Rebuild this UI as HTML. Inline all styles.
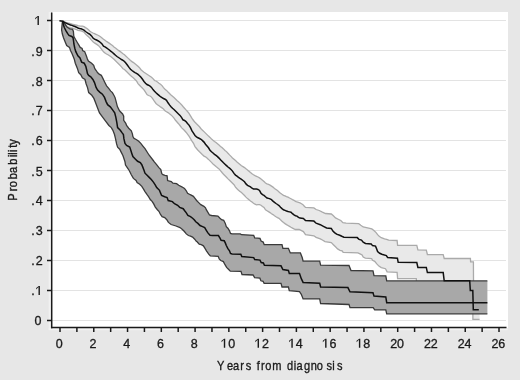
<!DOCTYPE html>
<html><head><meta charset="utf-8"><style>
html,body{margin:0;padding:0;background:#e7e7e7;}
svg{display:block;font-family:"Liberation Sans", sans-serif;will-change:transform;}
</style></head><body>
<svg width="520" height="380" viewBox="0 0 520 380">
<rect x="0" y="0" width="520" height="380" fill="#e7e7e7"/>
<rect x="52" y="12" width="456" height="316" fill="#ffffff"/>
<line x1="52" x2="506" y1="320.5" y2="320.5" stroke="#e3e3e3" stroke-width="1"/>
<line x1="52" x2="506" y1="290.5" y2="290.5" stroke="#e3e3e3" stroke-width="1"/>
<line x1="52" x2="506" y1="260.5" y2="260.5" stroke="#e3e3e3" stroke-width="1"/>
<line x1="52" x2="506" y1="230.5" y2="230.5" stroke="#e3e3e3" stroke-width="1"/>
<line x1="52" x2="506" y1="200.5" y2="200.5" stroke="#e3e3e3" stroke-width="1"/>
<line x1="52" x2="506" y1="170.5" y2="170.5" stroke="#e3e3e3" stroke-width="1"/>
<line x1="52" x2="506" y1="140.5" y2="140.5" stroke="#e3e3e3" stroke-width="1"/>
<line x1="52" x2="506" y1="110.5" y2="110.5" stroke="#e3e3e3" stroke-width="1"/>
<line x1="52" x2="506" y1="80.5" y2="80.5" stroke="#e3e3e3" stroke-width="1"/>
<line x1="52" x2="506" y1="50.5" y2="50.5" stroke="#e3e3e3" stroke-width="1"/>
<line x1="52" x2="506" y1="20.5" y2="20.5" stroke="#e3e3e3" stroke-width="1"/>
<polygon points="62.7,21.0 66.0,22.3 67.5,22.8 69.0,23.2 70.5,23.6 72.0,24.0 73.5,24.5 75.0,24.8 76.5,25.2 78.0,25.6 79.5,25.9 81.0,26.1 82.5,26.2 84.0,26.6 85.5,27.6 87.0,28.5 88.5,29.8 90.0,31.2 91.5,32.2 93.0,33.0 94.5,33.6 96.0,34.3 97.5,35.0 99.0,35.8 100.5,36.8 102.0,37.9 103.5,39.2 105.0,40.3 106.5,41.4 108.0,42.4 109.5,43.4 111.0,44.5 112.5,45.6 114.0,46.9 115.5,48.1 117.0,49.2 118.5,50.4 120.0,51.4 121.5,52.5 123.0,53.7 124.5,54.8 126.0,56.2 127.5,57.6 129.0,59.1 130.5,60.4 132.0,61.6 133.5,62.6 135.0,63.8 136.5,65.0 138.0,66.3 139.5,67.7 141.0,69.7 142.5,71.1 144.0,72.2 145.5,73.2 147.0,74.2 148.5,75.2 150.0,76.2 151.5,77.2 153.0,78.6 154.5,80.5 156.0,81.0 157.5,82.1 159.0,83.2 160.5,84.2 162.0,85.6 163.5,87.6 165.0,89.3 166.5,90.4 168.0,92.0 169.5,93.5 171.0,94.9 172.5,96.2 174.0,97.5 175.5,99.0 177.0,100.5 178.5,101.8 180.0,103.1 181.5,104.7 183.0,106.5 184.5,108.2 186.0,109.9 187.5,111.5 189.0,113.3 190.5,115.8 192.0,118.4 193.5,120.5 195.0,122.2 196.5,123.8 198.0,125.3 199.5,126.8 201.0,128.7 202.5,130.2 204.0,131.6 205.5,133.1 207.0,134.6 208.5,136.1 210.0,137.4 211.5,138.9 213.0,140.2 214.5,141.4 216.0,142.5 217.5,143.8 219.0,145.1 220.5,146.4 222.0,147.6 223.5,148.9 225.0,150.4 226.5,151.6 228.0,153.3 229.5,154.9 231.0,156.4 232.5,157.9 234.0,159.2 235.5,160.6 237.0,162.0 238.5,163.2 240.0,164.4 241.5,165.7 243.0,166.6 244.5,167.6 246.0,168.8 247.5,169.9 249.0,171.2 250.5,172.6 252.0,173.8 253.5,174.8 255.0,175.6 256.5,176.3 258.0,177.0 259.5,177.9 261.0,178.9 262.5,180.2 264.0,181.6 265.5,183.0 267.0,183.9 268.5,184.4 270.0,185.1 271.5,186.1 273.0,187.1 274.5,188.4 276.0,189.5 277.5,190.6 279.0,191.9 280.5,193.2 282.0,194.3 283.5,195.3 285.0,195.9 286.5,196.6 288.0,197.2 289.5,198.0 291.0,198.8 292.5,199.6 294.0,200.3 295.5,201.4 297.0,202.0 298.5,202.4 300.0,202.9 301.5,203.7 303.0,204.7 303.9,205.8 305.5,207.4 313.9,207.9 316.1,209.5 319.2,210.5 322.4,212.1 325.5,213.5 331.3,214.0 333.4,215.8 335.5,217.9 338.7,219.5 340.8,220.5 342.9,222.6 346.1,223.2 358.7,223.7 360.8,225.3 363.2,227.0 367.6,227.9 371.8,228.9 373.9,230.5 376.1,232.6 377.6,234.7 379.2,236.3 381.3,237.7 384.5,238.9 386.6,239.4 388.7,240.2 397.1,240.5 397.6,245.4 416.8,245.4 417.9,249.8 426.3,250.1 427.4,254.5 443.2,254.7 444.2,258.5 470.4,258.5 470.6,261.8 473.4,261.8 473.6,295.0 479.6,295.0 479.6,319.4 472.9,319.4 472.8,300.0 417.0,290.0 416.3,278.7 397.6,278.5 397.1,272.4 387.1,271.8 385.5,268.7 381.3,267.6 378.9,266.1 376.8,263.9 374.7,261.3 372.6,260.3 371.6,258.7 365.3,258.2 363.2,257.1 362.1,255.0 360.0,253.9 357.9,252.9 343.2,252.4 342.1,250.8 340.0,250.3 337.6,248.9 335.5,246.8 333.4,244.7 331.3,242.6 325.0,241.6 322.4,240.0 320.3,238.9 316.1,237.4 313.9,235.8 305.5,234.7 303.4,231.6 299.2,229.5 295.5,229.5 294.0,228.9 292.5,228.1 291.0,227.3 289.5,226.4 288.0,225.5 286.5,224.6 285.0,223.6 283.5,222.5 282.0,221.2 280.5,219.8 279.0,218.3 277.5,217.6 276.0,216.7 274.5,215.7 273.0,214.6 271.5,213.7 270.0,212.6 268.5,211.6 267.0,210.7 265.5,209.8 264.0,207.5 262.5,206.4 261.0,205.2 259.5,204.6 258.0,204.7 256.5,204.8 255.0,204.2 253.5,203.2 252.0,202.1 250.5,201.0 249.0,199.8 247.5,198.6 246.0,197.1 244.5,195.5 243.0,194.1 241.5,192.6 240.0,191.4 238.5,190.2 237.0,188.8 235.5,187.1 234.0,184.7 232.5,183.2 231.0,181.7 229.5,180.2 228.0,178.9 226.5,177.2 225.0,175.7 223.5,174.2 222.0,172.5 220.5,170.6 219.0,168.9 217.5,167.7 216.0,166.6 214.5,165.2 213.0,163.9 211.5,162.4 210.0,160.9 208.5,159.4 207.0,158.0 205.5,156.8 204.0,156.1 202.5,154.7 201.0,153.2 199.5,151.8 198.0,150.2 196.5,148.5 195.0,146.6 193.5,143.3 192.0,141.2 190.5,138.6 189.0,136.2 187.5,134.1 186.0,132.2 184.5,130.5 183.0,129.1 181.5,127.6 180.0,125.5 178.5,123.7 177.0,122.0 175.5,120.3 174.0,118.1 172.5,116.4 171.0,114.9 169.5,113.8 168.0,112.6 166.5,111.8 165.0,110.8 163.5,109.0 162.0,107.9 160.5,106.9 159.0,105.8 157.5,104.7 156.0,103.5 154.5,101.5 153.0,99.1 151.5,97.1 150.0,96.0 148.5,95.5 147.0,94.5 145.5,92.2 144.0,89.8 142.5,88.3 141.0,86.8 139.5,85.2 138.0,83.6 136.5,81.0 135.0,79.5 133.5,78.0 132.0,76.8 130.5,75.5 129.0,74.0 127.5,72.5 126.0,71.0 124.5,69.5 123.0,68.7 121.5,66.8 120.0,65.2 118.5,63.7 117.0,62.3 115.5,60.8 114.0,59.2 112.5,58.0 111.0,56.8 109.5,55.8 108.0,54.8 106.5,54.0 105.0,53.0 103.5,51.7 102.0,49.9 100.5,47.8 99.0,46.1 97.5,44.9 96.0,43.9 94.5,42.9 93.0,41.7 91.5,40.1 90.0,38.3 88.5,36.8 87.0,35.4 85.5,34.1 84.0,32.2 82.5,31.4 81.0,30.9 79.5,30.6 78.0,30.3 76.5,29.7 75.0,29.1 73.5,28.5 72.0,28.1 70.5,27.8 69.0,27.5 67.5,26.8 66.0,26.0 62.7,21.0" fill="#e9e9e9" stroke="none"/>
<polyline points="62.7,21.0 66.0,22.3 67.5,22.8 69.0,23.2 70.5,23.6 72.0,24.0 73.5,24.5 75.0,24.8 76.5,25.2 78.0,25.6 79.5,25.9 81.0,26.1 82.5,26.2 84.0,26.6 85.5,27.6 87.0,28.5 88.5,29.8 90.0,31.2 91.5,32.2 93.0,33.0 94.5,33.6 96.0,34.3 97.5,35.0 99.0,35.8 100.5,36.8 102.0,37.9 103.5,39.2 105.0,40.3 106.5,41.4 108.0,42.4 109.5,43.4 111.0,44.5 112.5,45.6 114.0,46.9 115.5,48.1 117.0,49.2 118.5,50.4 120.0,51.4 121.5,52.5 123.0,53.7 124.5,54.8 126.0,56.2 127.5,57.6 129.0,59.1 130.5,60.4 132.0,61.6 133.5,62.6 135.0,63.8 136.5,65.0 138.0,66.3 139.5,67.7 141.0,69.7 142.5,71.1 144.0,72.2 145.5,73.2 147.0,74.2 148.5,75.2 150.0,76.2 151.5,77.2 153.0,78.6 154.5,80.5 156.0,81.0 157.5,82.1 159.0,83.2 160.5,84.2 162.0,85.6 163.5,87.6 165.0,89.3 166.5,90.4 168.0,92.0 169.5,93.5 171.0,94.9 172.5,96.2 174.0,97.5 175.5,99.0 177.0,100.5 178.5,101.8 180.0,103.1 181.5,104.7 183.0,106.5 184.5,108.2 186.0,109.9 187.5,111.5 189.0,113.3 190.5,115.8 192.0,118.4 193.5,120.5 195.0,122.2 196.5,123.8 198.0,125.3 199.5,126.8 201.0,128.7 202.5,130.2 204.0,131.6 205.5,133.1 207.0,134.6 208.5,136.1 210.0,137.4 211.5,138.9 213.0,140.2 214.5,141.4 216.0,142.5 217.5,143.8 219.0,145.1 220.5,146.4 222.0,147.6 223.5,148.9 225.0,150.4 226.5,151.6 228.0,153.3 229.5,154.9 231.0,156.4 232.5,157.9 234.0,159.2 235.5,160.6 237.0,162.0 238.5,163.2 240.0,164.4 241.5,165.7 243.0,166.6 244.5,167.6 246.0,168.8 247.5,169.9 249.0,171.2 250.5,172.6 252.0,173.8 253.5,174.8 255.0,175.6 256.5,176.3 258.0,177.0 259.5,177.9 261.0,178.9 262.5,180.2 264.0,181.6 265.5,183.0 267.0,183.9 268.5,184.4 270.0,185.1 271.5,186.1 273.0,187.1 274.5,188.4 276.0,189.5 277.5,190.6 279.0,191.9 280.5,193.2 282.0,194.3 283.5,195.3 285.0,195.9 286.5,196.6 288.0,197.2 289.5,198.0 291.0,198.8 292.5,199.6 294.0,200.3 295.5,201.4 297.0,202.0 298.5,202.4 300.0,202.9 301.5,203.7 303.0,204.7 303.9,205.8 305.5,207.4 313.9,207.9 316.1,209.5 319.2,210.5 322.4,212.1 325.5,213.5 331.3,214.0 333.4,215.8 335.5,217.9 338.7,219.5 340.8,220.5 342.9,222.6 346.1,223.2 358.7,223.7 360.8,225.3 363.2,227.0 367.6,227.9 371.8,228.9 373.9,230.5 376.1,232.6 377.6,234.7 379.2,236.3 381.3,237.7 384.5,238.9 386.6,239.4 388.7,240.2 397.1,240.5 397.6,245.4 416.8,245.4 417.9,249.8 426.3,250.1 427.4,254.5 443.2,254.7 444.2,258.5 470.4,258.5 470.6,261.8 473.4,261.8 473.6,295.0 479.6,295.0" fill="none" stroke="#aaaaaa" stroke-width="1.3"/>
<polyline points="62.7,21.0 66.0,26.0 67.5,26.8 69.0,27.5 70.5,27.8 72.0,28.1 73.5,28.5 75.0,29.1 76.5,29.7 78.0,30.3 79.5,30.6 81.0,30.9 82.5,31.4 84.0,32.2 85.5,34.1 87.0,35.4 88.5,36.8 90.0,38.3 91.5,40.1 93.0,41.7 94.5,42.9 96.0,43.9 97.5,44.9 99.0,46.1 100.5,47.8 102.0,49.9 103.5,51.7 105.0,53.0 106.5,54.0 108.0,54.8 109.5,55.8 111.0,56.8 112.5,58.0 114.0,59.2 115.5,60.8 117.0,62.3 118.5,63.7 120.0,65.2 121.5,66.8 123.0,68.7 124.5,69.5 126.0,71.0 127.5,72.5 129.0,74.0 130.5,75.5 132.0,76.8 133.5,78.0 135.0,79.5 136.5,81.0 138.0,83.6 139.5,85.2 141.0,86.8 142.5,88.3 144.0,89.8 145.5,92.2 147.0,94.5 148.5,95.5 150.0,96.0 151.5,97.1 153.0,99.1 154.5,101.5 156.0,103.5 157.5,104.7 159.0,105.8 160.5,106.9 162.0,107.9 163.5,109.0 165.0,110.8 166.5,111.8 168.0,112.6 169.5,113.8 171.0,114.9 172.5,116.4 174.0,118.1 175.5,120.3 177.0,122.0 178.5,123.7 180.0,125.5 181.5,127.6 183.0,129.1 184.5,130.5 186.0,132.2 187.5,134.1 189.0,136.2 190.5,138.6 192.0,141.2 193.5,143.3 195.0,146.6 196.5,148.5 198.0,150.2 199.5,151.8 201.0,153.2 202.5,154.7 204.0,156.1 205.5,156.8 207.0,158.0 208.5,159.4 210.0,160.9 211.5,162.4 213.0,163.9 214.5,165.2 216.0,166.6 217.5,167.7 219.0,168.9 220.5,170.6 222.0,172.5 223.5,174.2 225.0,175.7 226.5,177.2 228.0,178.9 229.5,180.2 231.0,181.7 232.5,183.2 234.0,184.7 235.5,187.1 237.0,188.8 238.5,190.2 240.0,191.4 241.5,192.6 243.0,194.1 244.5,195.5 246.0,197.1 247.5,198.6 249.0,199.8 250.5,201.0 252.0,202.1 253.5,203.2 255.0,204.2 256.5,204.8 258.0,204.7 259.5,204.6 261.0,205.2 262.5,206.4 264.0,207.5 265.5,209.8 267.0,210.7 268.5,211.6 270.0,212.6 271.5,213.7 273.0,214.6 274.5,215.7 276.0,216.7 277.5,217.6 279.0,218.3 280.5,219.8 282.0,221.2 283.5,222.5 285.0,223.6 286.5,224.6 288.0,225.5 289.5,226.4 291.0,227.3 292.5,228.1 294.0,228.9 295.5,229.5 299.2,229.5 303.4,231.6 305.5,234.7 313.9,235.8 316.1,237.4 320.3,238.9 322.4,240.0 325.0,241.6 331.3,242.6 333.4,244.7 335.5,246.8 337.6,248.9 340.0,250.3 342.1,250.8 343.2,252.4 357.9,252.9 360.0,253.9 362.1,255.0 363.2,257.1 365.3,258.2 371.6,258.7 372.6,260.3 374.7,261.3 376.8,263.9 378.9,266.1 381.3,267.6 385.5,268.7 387.1,271.8 397.1,272.4 397.6,278.5 416.3,278.7 417.0,290.0 472.8,300.0 472.9,319.4 479.6,319.4" fill="none" stroke="#aaaaaa" stroke-width="1.3"/>
<polygon points="62.7,21.0 63.5,22.0 66.7,26.7 69.8,29.0 72.6,29.4 73.4,31.4 73.8,36.2 75.4,39.3 77.3,42.5 78.9,45.2 80.2,47.4 82.1,48.4 82.6,50.5 84.7,51.6 86.3,55.8 87.4,58.9 88.4,61.1 91.6,63.2 93.7,65.3 94.7,68.4 96.2,70.5 97.5,72.5 99.2,74.2 101.3,75.3 102.9,78.4 103.9,80.5 105.5,83.7 106.6,85.8 108.7,88.4 110.8,91.1 112.4,92.6 113.9,95.3 115.0,97.4 115.8,100.3 117.4,106.6 119.5,110.8 122.6,114.0 123.7,116.1 123.7,120.3 125.8,123.4 126.6,125.5 128.7,128.2 131.3,130.8 132.4,133.9 132.9,136.6 133.9,138.2 136.6,139.7 138.7,141.3 140.8,143.4 142.9,146.1 145.0,148.7 149.0,155.0 152.9,160.0 154.5,162.1 156.6,164.7 158.7,167.4 160.8,169.5 161.8,173.7 162.9,174.7 165.0,175.3 167.1,175.8 167.6,180.5 171.3,181.6 172.9,183.2 176.6,183.7 178.7,185.3 181.8,186.8 184.5,188.4 186.1,190.5 187.6,193.2 190.3,194.7 193.4,196.3 195.0,198.4 196.6,200.5 198.7,202.6 200.8,204.7 203.9,206.3 205.5,207.8 206.3,209.7 207.9,212.4 209.5,215.0 211.6,215.5 217.9,216.1 220.0,218.2 221.6,219.7 223.7,220.3 225.3,223.4 226.3,226.6 227.9,228.2 229.5,230.8 230.5,233.4 232.1,233.9 240.3,233.9 241.6,234.7 253.7,235.3 254.7,237.9 260.0,238.4 261.1,241.1 263.2,242.1 264.2,244.7 282.0,244.7 282.9,248.3 288.4,248.3 290.3,252.9 300.4,252.9 302.2,257.5 303.1,261.2 319.7,261.2 320.6,265.2 349.0,265.5 351.0,270.5 373.0,270.8 374.0,275.6 385.8,275.8 386.7,280.9 487.4,280.9 487.4,313.8 386.7,313.8 385.8,309.9 374.7,309.9 373.2,307.6 350.0,307.6 349.0,304.5 320.6,303.5 319.7,298.9 303.1,298.9 301.3,294.3 299.5,291.6 289.3,290.6 288.4,287.0 282.0,287.0 281.0,283.4 264.1,283.4 263.1,281.3 260.9,280.8 259.9,278.2 254.6,277.6 253.1,275.0 242.0,274.5 241.0,271.4 230.3,271.1 228.7,269.5 226.6,267.4 225.0,264.7 223.4,261.6 220.8,260.5 219.2,258.9 218.2,256.3 210.3,255.8 208.7,254.2 206.6,251.1 205.0,248.4 203.4,245.8 201.3,244.7 199.2,244.2 197.1,241.8 196.3,241.3 194.7,239.2 192.6,237.1 190.5,236.1 188.4,235.5 186.3,233.9 184.2,231.3 182.1,229.2 180.0,227.6 176.0,226.0 171.1,224.5 168.4,222.4 166.8,219.7 164.7,217.6 162.1,216.6 160.5,214.5 158.9,211.3 157.4,209.7 155.3,207.1 153.7,203.9 152.1,201.3 150.3,199.5 148.7,196.8 147.1,194.7 145.0,191.6 143.4,188.9 141.8,186.3 139.7,184.2 137.1,182.6 136.1,180.5 133.4,178.4 131.3,174.7 129.2,170.5 127.1,167.4 125.5,165.0 125.0,161.8 124.0,158.7 122.9,155.5 121.3,152.4 119.7,149.2 117.6,147.1 116.6,143.9 115.5,138.7 114.5,134.5 112.9,130.3 111.3,127.6 108.9,125.5 105.8,121.3 102.6,117.1 99.5,112.9 97.1,106.8 95.5,102.6 93.9,98.4 91.8,95.3 88.7,92.6 87.6,87.9 86.1,83.7 85.0,79.5 82.4,77.9 80.8,74.7 78.7,72.6 77.4,68.4 75.3,63.2 74.2,58.9 72.1,53.7 70.5,50.5 69.5,47.4 66.7,45.6 65.1,41.7 63.5,37.7 62.3,33.8 61.6,29.8 62.3,22.7 62.7,21.0" fill="#a8a8a8" stroke="none"/>
<polyline points="62.7,21.0 63.5,22.0 66.7,26.7 69.8,29.0 72.6,29.4 73.4,31.4 73.8,36.2 75.4,39.3 77.3,42.5 78.9,45.2 80.2,47.4 82.1,48.4 82.6,50.5 84.7,51.6 86.3,55.8 87.4,58.9 88.4,61.1 91.6,63.2 93.7,65.3 94.7,68.4 96.2,70.5 97.5,72.5 99.2,74.2 101.3,75.3 102.9,78.4 103.9,80.5 105.5,83.7 106.6,85.8 108.7,88.4 110.8,91.1 112.4,92.6 113.9,95.3 115.0,97.4 115.8,100.3 117.4,106.6 119.5,110.8 122.6,114.0 123.7,116.1 123.7,120.3 125.8,123.4 126.6,125.5 128.7,128.2 131.3,130.8 132.4,133.9 132.9,136.6 133.9,138.2 136.6,139.7 138.7,141.3 140.8,143.4 142.9,146.1 145.0,148.7 149.0,155.0 152.9,160.0 154.5,162.1 156.6,164.7 158.7,167.4 160.8,169.5 161.8,173.7 162.9,174.7 165.0,175.3 167.1,175.8 167.6,180.5 171.3,181.6 172.9,183.2 176.6,183.7 178.7,185.3 181.8,186.8 184.5,188.4 186.1,190.5 187.6,193.2 190.3,194.7 193.4,196.3 195.0,198.4 196.6,200.5 198.7,202.6 200.8,204.7 203.9,206.3 205.5,207.8 206.3,209.7 207.9,212.4 209.5,215.0 211.6,215.5 217.9,216.1 220.0,218.2 221.6,219.7 223.7,220.3 225.3,223.4 226.3,226.6 227.9,228.2 229.5,230.8 230.5,233.4 232.1,233.9 240.3,233.9 241.6,234.7 253.7,235.3 254.7,237.9 260.0,238.4 261.1,241.1 263.2,242.1 264.2,244.7 282.0,244.7 282.9,248.3 288.4,248.3 290.3,252.9 300.4,252.9 302.2,257.5 303.1,261.2 319.7,261.2 320.6,265.2 349.0,265.5 351.0,270.5 373.0,270.8 374.0,275.6 385.8,275.8 386.7,280.9 487.4,280.9" fill="none" stroke="#3a3a3a" stroke-width="1.3"/>
<polyline points="62.7,21.0 62.3,22.7 61.6,29.8 62.3,33.8 63.5,37.7 65.1,41.7 66.7,45.6 69.5,47.4 70.5,50.5 72.1,53.7 74.2,58.9 75.3,63.2 77.4,68.4 78.7,72.6 80.8,74.7 82.4,77.9 85.0,79.5 86.1,83.7 87.6,87.9 88.7,92.6 91.8,95.3 93.9,98.4 95.5,102.6 97.1,106.8 99.5,112.9 102.6,117.1 105.8,121.3 108.9,125.5 111.3,127.6 112.9,130.3 114.5,134.5 115.5,138.7 116.6,143.9 117.6,147.1 119.7,149.2 121.3,152.4 122.9,155.5 124.0,158.7 125.0,161.8 125.5,165.0 127.1,167.4 129.2,170.5 131.3,174.7 133.4,178.4 136.1,180.5 137.1,182.6 139.7,184.2 141.8,186.3 143.4,188.9 145.0,191.6 147.1,194.7 148.7,196.8 150.3,199.5 152.1,201.3 153.7,203.9 155.3,207.1 157.4,209.7 158.9,211.3 160.5,214.5 162.1,216.6 164.7,217.6 166.8,219.7 168.4,222.4 171.1,224.5 176.0,226.0 180.0,227.6 182.1,229.2 184.2,231.3 186.3,233.9 188.4,235.5 190.5,236.1 192.6,237.1 194.7,239.2 196.3,241.3 197.1,241.8 199.2,244.2 201.3,244.7 203.4,245.8 205.0,248.4 206.6,251.1 208.7,254.2 210.3,255.8 218.2,256.3 219.2,258.9 220.8,260.5 223.4,261.6 225.0,264.7 226.6,267.4 228.7,269.5 230.3,271.1 241.0,271.4 242.0,274.5 253.1,275.0 254.6,277.6 259.9,278.2 260.9,280.8 263.1,281.3 264.1,283.4 281.0,283.4 282.0,287.0 288.4,287.0 289.3,290.6 299.5,291.6 301.3,294.3 303.1,298.9 319.7,298.9 320.6,303.5 349.0,304.5 350.0,307.6 373.2,307.6 374.7,309.9 385.8,309.9 386.7,313.8 487.4,313.8" fill="none" stroke="#3a3a3a" stroke-width="1.3"/>
<polyline points="59.4,20.8 62.7,21.2 63.0,21.7 64.5,22.4 66.0,23.1 67.5,23.8 69.0,24.4 70.5,25.0 72.0,25.4 73.5,26.0 75.0,26.5 76.5,27.2 78.0,28.0 79.5,28.5 81.0,28.8 82.5,29.4 84.0,30.2 85.5,31.5 87.0,32.5 88.5,33.5 90.0,34.4 91.5,35.9 93.0,38.0 94.5,39.2 96.0,39.8 97.5,40.5 99.0,41.3 100.5,42.5 102.0,43.9 103.5,46.2 105.0,46.9 106.5,47.9 108.0,49.0 109.5,50.2 111.0,51.3 112.5,52.5 114.0,53.9 115.5,55.3 117.0,56.5 118.5,57.5 120.0,58.5 121.5,59.5 123.0,60.4 124.5,61.5 126.0,63.3 127.5,65.3 129.0,67.4 130.5,69.2 132.0,70.5 133.5,71.7 135.0,72.6 136.5,73.4 138.0,74.4 139.5,75.7 141.0,77.2 142.5,79.3 144.0,81.5 145.5,83.2 147.0,84.5 148.5,85.2 150.0,86.0 151.5,87.4 153.0,89.6 154.5,91.2 156.0,92.7 157.5,94.1 159.0,95.4 160.5,96.7 162.0,97.6 163.5,98.5 165.0,99.2 166.5,100.3 168.0,102.8 169.5,104.9 171.0,106.7 172.5,108.3 174.0,109.5 175.5,111.0 177.0,112.5 178.5,114.0 180.0,115.4 181.5,117.4 183.0,119.8 184.5,120.5 186.0,121.6 187.5,123.4 189.0,125.1 190.5,127.7 192.0,130.9 193.5,133.2 195.0,135.5 196.5,136.8 198.0,137.8 199.5,138.5 201.0,139.3 202.5,140.6 204.0,142.1 205.5,144.2 207.0,146.0 208.5,147.8 210.0,150.2 211.5,151.7 213.0,153.0 214.5,154.3 216.0,155.4 217.5,156.6 219.0,158.1 220.5,159.8 222.0,161.3 223.5,162.8 225.0,164.2 226.5,165.6 228.0,167.0 229.5,168.2 231.0,169.5 232.5,171.1 234.0,173.4 235.5,175.1 237.0,176.1 238.5,177.3 240.0,178.4 241.5,179.4 243.0,180.5 244.5,181.8 246.0,183.9 247.5,185.3 249.0,186.1 250.5,186.9 252.0,188.2 253.5,188.9 255.0,189.0 256.5,189.1 258.0,189.4 259.5,190.4 261.0,193.2 262.5,194.6 264.0,195.4 265.5,196.8 267.0,198.0 268.5,198.4 270.0,198.9 271.5,199.7 273.0,201.2 274.5,202.4 276.0,203.5 277.5,204.5 279.0,205.6 280.5,207.2 282.0,208.6 283.5,209.8 285.0,210.4 286.5,211.0 288.0,211.5 289.5,211.9 291.0,212.3 292.5,213.7 294.0,214.9 295.5,215.7 297.0,216.1 298.5,217.3 300.0,218.1 303.4,218.4 305.5,220.5 313.9,221.1 316.1,223.2 320.3,224.7 323.4,226.3 326.6,227.9 331.3,228.4 332.9,231.1 334.5,232.6 336.6,234.2 339.7,235.3 341.8,236.3 343.9,237.2 357.2,237.6 359.0,239.4 361.5,240.1 363.2,242.2 365.5,243.5 371.2,243.9 372.5,245.6 375.5,246.1 376.6,248.8 377.6,251.6 379.7,253.3 381.8,254.3 386.3,255.6 387.6,257.5 397.4,258.2 398.2,262.3 416.8,262.5 417.9,267.4 426.3,267.4 427.4,272.6 443.2,272.6 444.2,280.8 469.7,280.8 470.3,290.4 472.8,290.4 473.3,309.7 478.8,309.7" fill="none" stroke="#111111" stroke-width="1.5"/>
<polyline points="62.7,21.2 63.5,25.1 64.3,27.5 65.9,30.6 67.5,33.4 69.0,35.4 71.8,36.5 73.0,37.7 73.5,40.5 73.9,44.0 74.8,48.2 75.8,51.6 77.9,55.8 80.0,57.9 81.6,62.1 84.2,63.2 85.8,66.3 86.8,70.5 87.5,73.7 88.7,75.5 90.8,76.8 92.9,79.5 94.5,82.6 96.1,87.4 97.6,90.0 99.7,92.1 102.4,94.2 104.5,97.4 106.1,101.6 107.6,104.7 110.3,106.8 112.6,109.9 114.7,112.9 115.8,117.1 116.8,122.4 117.6,127.6 120.3,130.3 121.8,132.4 123.4,134.5 123.9,138.7 125.0,143.4 126.6,145.5 129.7,147.1 130.8,150.3 131.8,153.4 132.9,156.6 135.0,158.7 137.6,161.3 140.3,162.6 141.8,164.7 142.9,167.4 143.9,170.0 145.0,173.2 147.1,175.3 149.2,177.4 151.3,179.5 153.4,182.1 155.2,184.8 156.7,187.5 159.5,190.3 160.5,192.9 161.6,195.5 164.7,196.8 167.1,197.6 168.2,200.5 172.4,201.6 174.5,203.7 177.6,205.3 179.7,207.4 183.2,208.7 184.7,210.8 186.3,212.9 187.9,215.5 190.5,216.6 192.6,218.2 194.2,219.7 195.8,221.8 197.9,223.4 200.0,225.5 202.6,226.6 204.7,227.6 206.3,230.3 207.9,232.9 210.0,235.2 212.6,235.5 218.4,235.5 220.0,238.2 221.1,240.3 224.2,240.8 225.3,242.9 226.3,245.5 227.9,248.7 229.5,250.8 230.5,253.4 232.1,253.9 240.8,254.2 241.8,256.5 253.7,257.6 254.7,259.6 260.0,260.1 261.2,262.5 263.4,263.0 264.4,265.3 281.0,265.8 282.9,269.5 288.4,270.4 289.3,273.5 299.5,273.5 301.3,278.7 303.1,282.4 319.7,283.3 320.6,287.0 347.9,287.6 350.0,291.8 373.0,292.8 374.0,296.1 385.8,297.0 386.7,302.7 487.4,302.7" fill="none" stroke="#111111" stroke-width="1.5"/>
<rect x="48.6" y="12" width="2.2" height="318" fill="#f1f1f1"/>
<rect x="48.6" y="328.3" width="459" height="1.9" fill="#f3f3f3"/>
<line x1="51.7" x2="51.7" y1="12.5" y2="328.2" stroke="#1a1a1a" stroke-width="1.5"/>
<line x1="51" x2="506.5" y1="327.5" y2="327.5" stroke="#1a1a1a" stroke-width="1.5"/>
<line x1="47" x2="51" y1="320.5" y2="320.5" stroke="#1a1a1a" stroke-width="1.5"/>
<text x="38.05" y="325.0" text-anchor="middle" font-size="12.5" fill="#1a1a1a" stroke="#1a1a1a" stroke-width="0.3">0</text>
<line x1="47" x2="51" y1="290.5" y2="290.5" stroke="#1a1a1a" stroke-width="1.5"/>
<text x="32.9" y="295.0" text-anchor="middle" font-size="12.5" fill="#1a1a1a" stroke="#1a1a1a" stroke-width="0.3">.</text>
<path d="M38.50,295.00V286.90L36.20,289.40V288.00L38.80,286.00H39.90V295.00Z" fill="#1a1a1a"/>
<line x1="47" x2="51" y1="260.5" y2="260.5" stroke="#1a1a1a" stroke-width="1.5"/>
<text x="32.9" y="265.0" text-anchor="middle" font-size="12.5" fill="#1a1a1a" stroke="#1a1a1a" stroke-width="0.3">.</text>
<text x="39.2" y="265.0" text-anchor="middle" font-size="12.5" fill="#1a1a1a" stroke="#1a1a1a" stroke-width="0.3">2</text>
<line x1="47" x2="51" y1="230.5" y2="230.5" stroke="#1a1a1a" stroke-width="1.5"/>
<text x="32.9" y="235.0" text-anchor="middle" font-size="12.5" fill="#1a1a1a" stroke="#1a1a1a" stroke-width="0.3">.</text>
<text x="39.2" y="235.0" text-anchor="middle" font-size="12.5" fill="#1a1a1a" stroke="#1a1a1a" stroke-width="0.3">3</text>
<line x1="47" x2="51" y1="200.5" y2="200.5" stroke="#1a1a1a" stroke-width="1.5"/>
<text x="32.9" y="205.0" text-anchor="middle" font-size="12.5" fill="#1a1a1a" stroke="#1a1a1a" stroke-width="0.3">.</text>
<text x="39.2" y="205.0" text-anchor="middle" font-size="12.5" fill="#1a1a1a" stroke="#1a1a1a" stroke-width="0.3">4</text>
<line x1="47" x2="51" y1="170.5" y2="170.5" stroke="#1a1a1a" stroke-width="1.5"/>
<text x="32.9" y="175.8" text-anchor="middle" font-size="12.5" fill="#1a1a1a" stroke="#1a1a1a" stroke-width="0.3">.</text>
<text x="39.2" y="175.8" text-anchor="middle" font-size="12.5" fill="#1a1a1a" stroke="#1a1a1a" stroke-width="0.3">5</text>
<line x1="47" x2="51" y1="140.5" y2="140.5" stroke="#1a1a1a" stroke-width="1.5"/>
<text x="32.9" y="145.0" text-anchor="middle" font-size="12.5" fill="#1a1a1a" stroke="#1a1a1a" stroke-width="0.3">.</text>
<text x="39.2" y="145.0" text-anchor="middle" font-size="12.5" fill="#1a1a1a" stroke="#1a1a1a" stroke-width="0.3">6</text>
<line x1="47" x2="51" y1="110.5" y2="110.5" stroke="#1a1a1a" stroke-width="1.5"/>
<text x="32.9" y="115.0" text-anchor="middle" font-size="12.5" fill="#1a1a1a" stroke="#1a1a1a" stroke-width="0.3">.</text>
<text x="39.2" y="115.0" text-anchor="middle" font-size="12.5" fill="#1a1a1a" stroke="#1a1a1a" stroke-width="0.3">7</text>
<line x1="47" x2="51" y1="80.5" y2="80.5" stroke="#1a1a1a" stroke-width="1.5"/>
<text x="32.9" y="85.8" text-anchor="middle" font-size="12.5" fill="#1a1a1a" stroke="#1a1a1a" stroke-width="0.3">.</text>
<text x="39.2" y="85.8" text-anchor="middle" font-size="12.5" fill="#1a1a1a" stroke="#1a1a1a" stroke-width="0.3">8</text>
<line x1="47" x2="51" y1="50.5" y2="50.5" stroke="#1a1a1a" stroke-width="1.5"/>
<text x="32.9" y="55.8" text-anchor="middle" font-size="12.5" fill="#1a1a1a" stroke="#1a1a1a" stroke-width="0.3">.</text>
<text x="39.2" y="55.8" text-anchor="middle" font-size="12.5" fill="#1a1a1a" stroke="#1a1a1a" stroke-width="0.3">9</text>
<line x1="47" x2="51" y1="20.5" y2="20.5" stroke="#1a1a1a" stroke-width="1.5"/>
<path d="M37.50,25.00V16.90L35.20,19.40V18.00L37.80,16.00H38.90V25.00Z" fill="#1a1a1a"/>
<line x1="60.00" x2="60.00" y1="327.5" y2="332" stroke="#1a1a1a" stroke-width="1.5"/>
<text x="59.15" y="347.8" text-anchor="middle" font-size="12.5" fill="#1a1a1a" stroke="#1a1a1a" stroke-width="0.3">0</text>
<line x1="76.89" x2="76.89" y1="327.5" y2="332" stroke="#1a1a1a" stroke-width="1.5"/>
<line x1="93.77" x2="93.77" y1="327.5" y2="332" stroke="#1a1a1a" stroke-width="1.5"/>
<text x="92.92" y="347.8" text-anchor="middle" font-size="12.5" fill="#1a1a1a" stroke="#1a1a1a" stroke-width="0.3">2</text>
<line x1="110.66" x2="110.66" y1="327.5" y2="332" stroke="#1a1a1a" stroke-width="1.5"/>
<line x1="127.54" x2="127.54" y1="327.5" y2="332" stroke="#1a1a1a" stroke-width="1.5"/>
<text x="126.69" y="347.8" text-anchor="middle" font-size="12.5" fill="#1a1a1a" stroke="#1a1a1a" stroke-width="0.3">4</text>
<line x1="144.43" x2="144.43" y1="327.5" y2="332" stroke="#1a1a1a" stroke-width="1.5"/>
<line x1="161.31" x2="161.31" y1="327.5" y2="332" stroke="#1a1a1a" stroke-width="1.5"/>
<text x="160.46" y="347.8" text-anchor="middle" font-size="12.5" fill="#1a1a1a" stroke="#1a1a1a" stroke-width="0.3">6</text>
<line x1="178.19" x2="178.19" y1="327.5" y2="332" stroke="#1a1a1a" stroke-width="1.5"/>
<line x1="195.08" x2="195.08" y1="327.5" y2="332" stroke="#1a1a1a" stroke-width="1.5"/>
<text x="194.23" y="347.8" text-anchor="middle" font-size="12.5" fill="#1a1a1a" stroke="#1a1a1a" stroke-width="0.3">8</text>
<line x1="211.97" x2="211.97" y1="327.5" y2="332" stroke="#1a1a1a" stroke-width="1.5"/>
<line x1="228.85" x2="228.85" y1="327.5" y2="332" stroke="#1a1a1a" stroke-width="1.5"/>
<path d="M223.82,347.80V339.70L221.52,342.20V340.80L224.12,338.80H225.22V347.80Z" fill="#1a1a1a"/>
<text x="231.65" y="347.8" text-anchor="middle" font-size="12.5" fill="#1a1a1a" stroke="#1a1a1a" stroke-width="0.3">0</text>
<line x1="245.74" x2="245.74" y1="327.5" y2="332" stroke="#1a1a1a" stroke-width="1.5"/>
<line x1="262.62" x2="262.62" y1="327.5" y2="332" stroke="#1a1a1a" stroke-width="1.5"/>
<path d="M257.59,347.80V339.70L255.29,342.20V340.80L257.89,338.80H258.99V347.80Z" fill="#1a1a1a"/>
<text x="265.42" y="347.8" text-anchor="middle" font-size="12.5" fill="#1a1a1a" stroke="#1a1a1a" stroke-width="0.3">2</text>
<line x1="279.50" x2="279.50" y1="327.5" y2="332" stroke="#1a1a1a" stroke-width="1.5"/>
<line x1="296.39" x2="296.39" y1="327.5" y2="332" stroke="#1a1a1a" stroke-width="1.5"/>
<path d="M291.36,347.80V339.70L289.06,342.20V340.80L291.66,338.80H292.76V347.80Z" fill="#1a1a1a"/>
<text x="299.19" y="347.8" text-anchor="middle" font-size="12.5" fill="#1a1a1a" stroke="#1a1a1a" stroke-width="0.3">4</text>
<line x1="313.28" x2="313.28" y1="327.5" y2="332" stroke="#1a1a1a" stroke-width="1.5"/>
<line x1="330.16" x2="330.16" y1="327.5" y2="332" stroke="#1a1a1a" stroke-width="1.5"/>
<path d="M325.13,347.80V339.70L322.83,342.20V340.80L325.43,338.80H326.53V347.80Z" fill="#1a1a1a"/>
<text x="332.96" y="347.8" text-anchor="middle" font-size="12.5" fill="#1a1a1a" stroke="#1a1a1a" stroke-width="0.3">6</text>
<line x1="347.05" x2="347.05" y1="327.5" y2="332" stroke="#1a1a1a" stroke-width="1.5"/>
<line x1="363.93" x2="363.93" y1="327.5" y2="332" stroke="#1a1a1a" stroke-width="1.5"/>
<path d="M358.90,347.80V339.70L356.60,342.20V340.80L359.20,338.80H360.30V347.80Z" fill="#1a1a1a"/>
<text x="366.73" y="347.8" text-anchor="middle" font-size="12.5" fill="#1a1a1a" stroke="#1a1a1a" stroke-width="0.3">8</text>
<line x1="380.82" x2="380.82" y1="327.5" y2="332" stroke="#1a1a1a" stroke-width="1.5"/>
<line x1="397.70" x2="397.70" y1="327.5" y2="332" stroke="#1a1a1a" stroke-width="1.5"/>
<text x="393.70" y="347.8" text-anchor="middle" font-size="12.5" fill="#1a1a1a" stroke="#1a1a1a" stroke-width="0.3">2</text>
<text x="400.50" y="347.8" text-anchor="middle" font-size="12.5" fill="#1a1a1a" stroke="#1a1a1a" stroke-width="0.3">0</text>
<line x1="414.59" x2="414.59" y1="327.5" y2="332" stroke="#1a1a1a" stroke-width="1.5"/>
<line x1="431.47" x2="431.47" y1="327.5" y2="332" stroke="#1a1a1a" stroke-width="1.5"/>
<text x="427.47" y="347.8" text-anchor="middle" font-size="12.5" fill="#1a1a1a" stroke="#1a1a1a" stroke-width="0.3">2</text>
<text x="434.27" y="347.8" text-anchor="middle" font-size="12.5" fill="#1a1a1a" stroke="#1a1a1a" stroke-width="0.3">2</text>
<line x1="448.36" x2="448.36" y1="327.5" y2="332" stroke="#1a1a1a" stroke-width="1.5"/>
<line x1="465.24" x2="465.24" y1="327.5" y2="332" stroke="#1a1a1a" stroke-width="1.5"/>
<text x="461.24" y="347.8" text-anchor="middle" font-size="12.5" fill="#1a1a1a" stroke="#1a1a1a" stroke-width="0.3">2</text>
<text x="468.04" y="347.8" text-anchor="middle" font-size="12.5" fill="#1a1a1a" stroke="#1a1a1a" stroke-width="0.3">4</text>
<line x1="482.13" x2="482.13" y1="327.5" y2="332" stroke="#1a1a1a" stroke-width="1.5"/>
<line x1="499.01" x2="499.01" y1="327.5" y2="332" stroke="#1a1a1a" stroke-width="1.5"/>
<text x="495.01" y="347.8" text-anchor="middle" font-size="12.5" fill="#1a1a1a" stroke="#1a1a1a" stroke-width="0.3">2</text>
<text x="501.81" y="347.8" text-anchor="middle" font-size="12.5" fill="#1a1a1a" stroke="#1a1a1a" stroke-width="0.3">6</text>
<text transform="scale(0.85,1)" x="255.31 266.93 274.23 282.69 289.04 295.54 302.21 307.16 312.03 320.29 331.12 337.71 345.50 348.93 357.53 365.49 372.62 384.10 391.03 396.39" y="370.3" font-size="13" fill="#1a1a1a" stroke="#1a1a1a" stroke-width="0.35">Years from diagnosis</text>
<text transform="translate(16.55,200) rotate(-90) scale(0.85,1)" x="-0.88 10.34 14.97 24.30 31.87 41.36 50.62 53.32 56.38 61.44 65.10" y="0" font-size="13" fill="#1a1a1a" stroke="#1a1a1a" stroke-width="0.35">Probability</text>
</svg>
</body></html>
